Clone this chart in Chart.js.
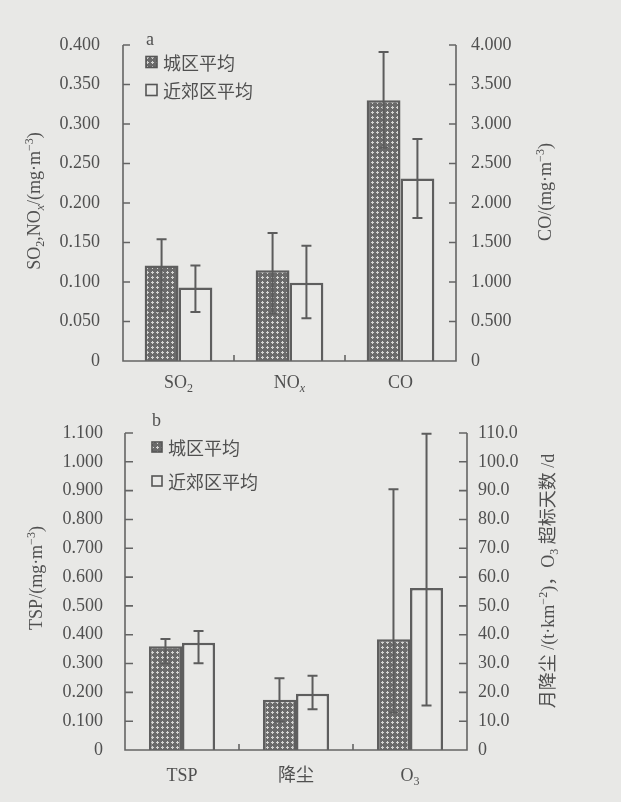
<!DOCTYPE html>
<html><head><meta charset="utf-8">
<script src="https://cdn.jsdelivr.net/npm/chart.js@4"></script>
<style>
html,body{margin:0;padding:0;background:#e8e8e6;}
body{width:621px;height:802px;position:relative;overflow:hidden;}
canvas{position:absolute;left:0;}
#c1{top:0;} #c2{top:400px;}
</style></head><body>
<canvas id="c1" width="621" height="400"></canvas>
<canvas id="c2" width="621" height="402"></canvas>
<script>
// ---------- data: panel a ----------
const seriesNames = ['城区平均', '近郊区平均'];
const categoriesA = ['SO₂', 'NOₓ', 'CO'];
const urbanLeftA   = [0.121, 0.115, null];
const suburbLeftA  = [0.093, 0.099, null];
const urbanRightA  = [null, null, 3.30];
const suburbRightA = [null, null, 2.31];
const urbanLowA    = [0.063, 0.060, 2.70];
const urbanHighA   = [0.154, 0.162, 3.91];
const suburbLowA   = [0.062, 0.054, 1.81];
const suburbHighA  = [0.121, 0.146, 2.81];
const leftTicksA  = [0, 0.05, 0.10, 0.15, 0.20, 0.25, 0.30, 0.35, 0.40];
const leftTickLabelsA  = ['0', '0.050', '0.100', '0.150', '0.200', '0.250', '0.300', '0.350', '0.400'];
const rightTicksA = [0, 0.5, 1.0, 1.5, 2.0, 2.5, 3.0, 3.5, 4.0];
const rightTickLabelsA = ['0', '0.500', '1.000', '1.500', '2.000', '2.500', '3.000', '3.500', '4.000'];
const leftTitleA  = 'SO₂,NOₓ/(mg·m⁻³)';
const rightTitleA = 'CO/(mg·m⁻³)';

// ---------- data: panel b ----------
const categoriesB = ['TSP', '降尘', 'O₃'];
const urbanLeftB   = [0.360, null, null];
const suburbLeftB  = [0.372, null, null];
const urbanRightB  = [null, 17.4, 38.4];
const suburbRightB = [null, 19.5, 56.2];
const urbanLowB    = [0.301, 9.8, 13.0];
const urbanHighB   = [0.385, 24.9, 90.5];
const suburbLowB   = [0.301, 14.1, 15.4];
const suburbHighB  = [0.413, 25.8, 109.7];
const leftTicksB  = [0, 0.1, 0.2, 0.3, 0.4, 0.5, 0.6, 0.7, 0.8, 0.9, 1.0, 1.1];
const leftTickLabelsB  = ['0', '0.100', '0.200', '0.300', '0.400', '0.500', '0.600', '0.700', '0.800', '0.900', '1.000', '1.100'];
const rightTicksB = [0, 10, 20, 30, 40, 50, 60, 70, 80, 90, 100, 110];
const rightTickLabelsB = ['0', '10.0', '20.0', '30.0', '40.0', '50.0', '60.0', '70.0', '80.0', '90.0', '100.0', '110.0'];
const leftTitleB  = 'TSP/(mg·m⁻³)';
const rightTitleB = '月降尘 /(t·km⁻²)，O₃ 超标天数 /d';

// ---------- styling ----------
const FONT = '"Liberation Serif", "Noto Sans CJK SC", serif';
const CJK = '"Noto Sans CJK SC", sans-serif';
const TEXT = '#505050';
const LINE = '#646464';
const PAPER = '#e9e9e7';

function makePattern() {
  const c = document.createElement('canvas');
  c.width = 5; c.height = 5;
  const g = c.getContext('2d');
  g.fillStyle = '#6a6a6a'; g.fillRect(0, 0, 5, 5);
  g.fillStyle = '#d4d4d2';
  [[2,1],[1,2],[2,2],[3,2],[2,3]].forEach(p => g.fillRect(p[0], p[1], 1, 1));
  return document.getElementById('c1').getContext('2d').createPattern(c, 'repeat');
}
const PATTERN = makePattern();

const SUB = {'₂':'2','₃':'3','ₓ':'x'};
const SUP = {'⁻':'−','³':'3','²':'2'};
function runs(text) {
  const out = [];
  for (const ch of text) {
    let k = 'n', c = ch;
    if (SUB[ch]) { k = ch === 'ₓ' ? 'subi' : 'sub'; c = SUB[ch]; }
    else if (SUP[ch]) { k = 'sup'; c = SUP[ch]; }
    if (out.length && out[out.length - 1].k === k) out[out.length - 1].t += c;
    else out.push({k, t: c});
  }
  return out;
}
function drawRich(ctx, text, x, y, size, align, rot) {
  const rs = runs(text);
  const fontFor = r => (r.k === 'subi' ? 'italic ' : '') + (r.k === 'n' ? size : Math.round(size * 0.66)) + 'px ' + FONT;
  let w = 0;
  rs.forEach(r => { ctx.font = fontFor(r); r.w = ctx.measureText(r.t).width; w += r.w; });
  ctx.save();
  ctx.translate(x, y);
  if (rot) ctx.rotate(rot);
  let cx = align === 'left' ? 0 : align === 'right' ? -w : -w / 2;
  ctx.textBaseline = 'alphabetic';
  ctx.textAlign = 'left';
  ctx.fillStyle = TEXT;
  const base = size * 0.33;
  rs.forEach(r => {
    ctx.font = fontFor(r);
    const dy = (r.k === 'sub' || r.k === 'subi') ? size * 0.22 : r.k === 'sup' ? -size * 0.38 : 0;
    ctx.fillText(r.t, cx, base + dy);
    cx += r.w;
  });
  ctx.restore();
}

const errorBars = {
  id: 'errorBars',
  afterDatasetsDraw(chart) {
    const ctx = chart.ctx;
    chart.data.datasets.forEach((ds, di) => {
      const meta = chart.getDatasetMeta(di);
      const ys = chart.scales[ds.yAxisID];
      meta.data.forEach((el, i) => {
        if (ds.data[i] == null) return;
        const x = el.x;
        const y1 = ys.getPixelForValue(ds.errLow[i]);
        const y2 = ys.getPixelForValue(ds.errHigh[i]);
        ctx.save();
        ctx.strokeStyle = '#5c5c5c';
        ctx.lineWidth = 2;
        ctx.beginPath();
        ctx.moveTo(x, y1); ctx.lineTo(x, y2);
        ctx.moveTo(x - 5, y1); ctx.lineTo(x + 5, y1);
        ctx.moveTo(x - 5, y2); ctx.lineTo(x + 5, y2);
        ctx.stroke();
        ctx.restore();
      });
    });
  }
};

const frame = {
  id: 'frame',
  afterDraw(chart, args, o) {
    const ctx = chart.ctx;
    const a = chart.chartArea;
    const xs = chart.scales.x, yl = chart.scales.yL, yr = chart.scales.yR;
    ctx.save();
    ctx.strokeStyle = LINE;
    ctx.lineWidth = 1.6;
    ctx.beginPath();
    ctx.moveTo(a.left, a.top); ctx.lineTo(a.left, a.bottom); ctx.lineTo(a.right, a.bottom); ctx.lineTo(a.right, a.top);
    yl.ticks.forEach(t => { const y = yl.getPixelForValue(t.value); ctx.moveTo(a.left, y); ctx.lineTo(a.left + o.tick, y); });
    yr.ticks.forEach(t => { const y = yr.getPixelForValue(t.value); ctx.moveTo(a.right, y); ctx.lineTo(a.right - o.tick, y); });
    const n = chart.data.labels.length;
    for (let i = 1; i < n; i++) {
      const x = (xs.getPixelForValue(i - 1) + xs.getPixelForValue(i)) / 2;
      ctx.moveTo(x, a.bottom); ctx.lineTo(x, a.bottom - 6);
    }
    ctx.stroke();
    // category labels
    chart.data.labels.forEach((lab, i) => {
      drawRich(ctx, lab, xs.getPixelForValue(i), a.bottom + o.xLabelDy, 18, 'center', 0);
    });
    // axis titles
    drawRich(ctx, o.leftTitle, o.leftTitleX, o.leftTitleY, 18, 'center', -Math.PI / 2);
    drawRich(ctx, o.rightTitle, o.rightTitleX, o.rightTitleY, 18, 'center', -Math.PI / 2);
    // panel letter
    drawRich(ctx, o.letter, o.letterX, o.letterY, 18, 'left', 0);
    // legend
    o.names.forEach((name, i) => {
      const cy = o.legY[i];
      const s = o.box;
      ctx.fillStyle = i === 0 ? PATTERN : PAPER;
      ctx.fillRect(o.legX, cy - s / 2, s, s);
      ctx.strokeStyle = '#555';
      ctx.lineWidth = 1.6;
      ctx.strokeRect(o.legX, cy - s / 2, s, s);
      ctx.fillStyle = TEXT;
      ctx.font = '18px ' + CJK;
      ctx.textBaseline = 'middle';
      ctx.textAlign = 'left';
      ctx.fillText(name, o.legX + o.box + 6, cy + 1);
    });
    ctx.restore();
  }
};

function yAxis(pos, vals, labels, width, pad, max) {
  return {
    type: 'linear', position: pos, min: 0, max: max,
    grid: { display: false, drawTicks: false },
    border: { display: false },
    afterBuildTicks: s => { s.ticks = vals.map(v => ({ value: v })); },
    afterFit: s => { s.width = width; },
    ticks: {
      padding: pad, color: TEXT, font: { family: FONT, size: 18 },
      callback: (v, i) => labels[i]
    }
  };
}

function makeChart(id, cfg) {
  const barStyle = (fill) => ({ backgroundColor: fill, borderColor: '#5e5e5e', borderWidth: 2.5 });
  return new Chart(document.getElementById(id), {
    type: 'bar',
    data: {
      labels: cfg.labels,
      datasets: [
        Object.assign({ label: seriesNames[0], data: cfg.uL, yAxisID: 'yL', errLow: cfg.uLo, errHigh: cfg.uHi }, barStyle(PATTERN)),
        Object.assign({ label: seriesNames[1], data: cfg.sL, yAxisID: 'yL', errLow: cfg.sLo, errHigh: cfg.sHi }, barStyle(PAPER)),
        Object.assign({ label: seriesNames[0], data: cfg.uR, yAxisID: 'yR', errLow: cfg.uLo, errHigh: cfg.uHi }, barStyle(PATTERN)),
        Object.assign({ label: seriesNames[1], data: cfg.sR, yAxisID: 'yR', errLow: cfg.sLo, errHigh: cfg.sHi }, barStyle(PAPER))
      ]
    },
    options: {
      responsive: false, animation: false, devicePixelRatio: 1,
      layout: { padding: { top: cfg.top, left: 0, right: 0, bottom: 0 } },
      datasets: { bar: { skipNull: true, categoryPercentage: cfg.catPct, barPercentage: 1.0, borderSkipped: 'start' } },
      scales: {
        x: {
          grid: { display: false, drawTicks: false }, border: { display: false },
          ticks: { display: false },
          afterFit: s => { s.height = cfg.xHeight; }
        },
        yL: yAxis('left', cfg.lt, cfg.ltl, cfg.leftW, cfg.lPad, cfg.lMax),
        yR: yAxis('right', cfg.rt, cfg.rtl, cfg.rightW, cfg.rPad, cfg.rMax)
      },
      plugins: {
        legend: { display: false }, tooltip: { enabled: false },
        frame: cfg.frame
      }
    },
    plugins: [errorBars, frame]
  });
}

makeChart('c1', {
  labels: categoriesA,
  uL: urbanLeftA, sL: suburbLeftA, uR: urbanRightA, sR: suburbRightA,
  uLo: urbanLowA, uHi: urbanHighA, sLo: suburbLowA, sHi: suburbHighA,
  lt: leftTicksA, ltl: leftTickLabelsA, rt: rightTicksA, rtl: rightTickLabelsA,
  lMax: 0.4, rMax: 4.0,
  top: 45, xHeight: 39, leftW: 123, rightW: 165, lPad: 23, rPad: 15, catPct: 0.61,
  frame: {
    tick: 7, xLabelDy: 21,
    leftTitle: leftTitleA, leftTitleX: 34, leftTitleY: 201,
    rightTitle: rightTitleA, rightTitleX: 545, rightTitleY: 192,
    letter: 'a', letterX: 146, letterY: 39,
    names: seriesNames, legX: 146, legY: [62, 90], box: 11
  }
});

makeChart('c2', {
  labels: categoriesB,
  uL: urbanLeftB, sL: suburbLeftB, uR: urbanRightB, sR: suburbRightB,
  uLo: urbanLowB, uHi: urbanHighB, sLo: suburbLowB, sHi: suburbHighB,
  lt: leftTicksB, ltl: leftTickLabelsB, rt: rightTicksB, rtl: rightTickLabelsB,
  lMax: 1.1, rMax: 110,
  top: 33, xHeight: 52, leftW: 125, rightW: 154, lPad: 22, rPad: 11, catPct: 0.58,
  frame: {
    tick: 8, xLabelDy: 25,
    leftTitle: leftTitleB, leftTitleX: 36, leftTitleY: 178,
    rightTitle: rightTitleB, rightTitleX: 548, rightTitleY: 181,
    letter: 'b', letterX: 152, letterY: 20,
    names: seriesNames, legX: 152, legY: [47, 81], box: 10
  }
});
</script>
</body></html>
